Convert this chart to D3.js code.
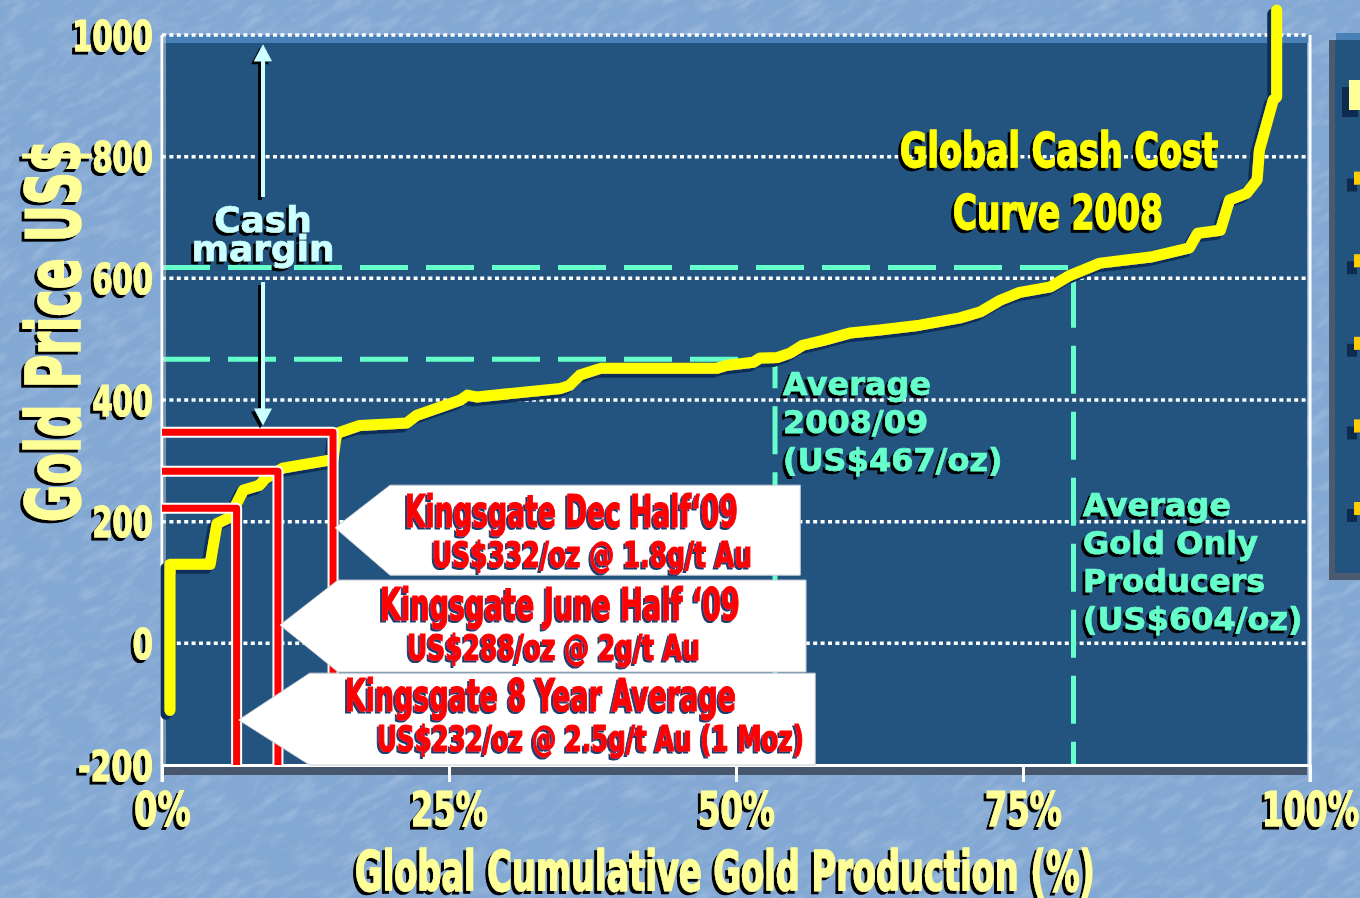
<!DOCTYPE html>
<html>
<head>
<meta charset="utf-8">
<script src="https://cdn.jsdelivr.net/npm/d3@7"></script>
<style>
  html, body { margin: 0; padding: 0; background: #86abd6; overflow: hidden; }
  svg { display: block; }
</style>
</head>
<body>
<div id="chart"></div>
<script>
var svgWidth = 1360;
var svgHeight = 898;

// plot frame in pixels
var plot = { left: 162, right: 1310, top: 35, bottom: 765 };

// ---- data ----
var curvePct = [0.7, 0.7, 4.2, 4.4, 4.8, 5.9, 7.1, 8.5, 9.0, 10.5, 12.0, 14.2, 14.9, 15.2, 15.5,
  17.2, 21.3, 22.2, 24.2, 26.0, 26.6, 27.4, 34.7, 35.5, 36.4, 38.2, 48.3, 49.2, 51.5, 52.1,
  53.6, 54.7, 55.8, 57.6, 59.9, 62.5, 66.0, 69.5, 71.3, 73.0, 74.7, 77.4, 79.1, 81.7, 86.1,
  89.5, 90.2, 92.2, 93.0, 94.5, 95.4, 95.6, 96.8, 97.1, 97.1];
var curveCost = [-110, 130, 130, 153, 197, 207, 252, 260, 271, 288, 293, 300, 302, 345, 347,
  358, 362, 375, 388, 400, 408, 405, 419, 424, 441, 452, 452, 457, 462, 469,
  470, 477, 490, 498, 510, 515, 523, 535, 545, 564, 577, 586, 605, 625, 635,
  650, 674, 679, 729, 740, 762, 811, 893, 898, 1041];

var yTickValues = [-200, 0, 200, 400, 600, 800, 1000];
var gridValues = [0, 200, 400, 600, 800, 1000];
var xTickValues = [0, 25, 50, 75, 100];

// average lines (level drawn, cumulative % where it meets the curve)
var averageCost = [467, 618];
var averagePct = [53.4, 79.4];
var averageLabels = [
  ['Average', '2008/09', '(US$467/oz)'],
  ['Average', 'Gold Only', 'Producers', '(US$604/oz)']
];

// Kingsgate markers
var kingsgateCost = [347, 283, 222];
var kingsgatePct = [14.9, 10.1, 6.5];
var kingsgateTitle = ['Kingsgate Dec Half\u201809', 'Kingsgate June Half \u201809', 'Kingsgate 8 Year Average'];
var kingsgateDetail = ['US$332/oz @ 1.8g/t Au', 'US$288/oz @ 2g/t Au', 'US$232/oz @ 2.5g/t Au (1 Moz)'];

// cash margin arrow range
var marginTop = 985;
var marginBottom = 358;

var legendColors = ['#ffff99', '#ffcc00', '#ffcc00', '#ffcc00', '#ffcc00', '#ffcc00'];

// ---- scales ----
var x = d3.scaleLinear().domain([0, 100]).range([plot.left, plot.right]);
var y = d3.scaleLinear().domain([-200, 1000]).range([plot.bottom, plot.top]);

var narrow = "'DejaVu Sans Condensed', 'DejaVu Sans', sans-serif";
var wide = "'DejaVu Sans', Verdana, sans-serif";

// rough width of a condensed label, so the heavy slide font can be imitated
function labelWidth(s, digitW, pctW) {
  var w = 0;
  for (var c of s) w += c === '%' ? pctW : (c === '-' ? digitW * 0.7 : digitW);
  return w;
}

var svg = d3.select('#chart')
  .append('svg')
  .attr('width', svgWidth)
  .attr('height', svgHeight);

// hard drop shadows, offset left-down like the slide
var defs = svg.append('defs');
function addShadow(id, color, dx, dy) {
  var f = defs.append('filter')
    .attr('id', id)
    .attr('filterUnits', 'userSpaceOnUse')
    .attr('x', -2000).attr('y', -2000)
    .attr('width', 5000).attr('height', 5000);
  f.append('feOffset').attr('in', 'SourceAlpha').attr('dx', dx).attr('dy', dy).attr('result', 'off');
  f.append('feFlood').attr('flood-color', color).attr('result', 'col');
  f.append('feComposite').attr('in', 'col').attr('in2', 'off').attr('operator', 'in').attr('result', 'sh');
  var m = f.append('feMerge');
  m.append('feMergeNode').attr('in', 'sh');
  m.append('feMergeNode').attr('in', 'SourceGraphic');
}
addShadow('shBlack', '#000000', -3, 3);
addShadow('shNavy', '#0b2f57', -4, 4);
addShadow('shRed', '#1d3c6c', -2, 2);
addShadow('shLegend', '#0c2b50', -7, 7);

// mottled slide texture
var tex = defs.append('filter')
  .attr('id', 'texture')
  .attr('x', 0).attr('y', 0).attr('width', 1).attr('height', 1);
tex.append('feTurbulence')
  .attr('type', 'fractalNoise')
  .attr('baseFrequency', '0.035 0.11')
  .attr('numOctaves', 3)
  .attr('seed', 4);
tex.append('feColorMatrix')
  .attr('type', 'matrix')
  .attr('values', '0 0 0 0 1  0 0 0 0 1  0 0 0 0 1  1.4 0 0 0 -0.62');

svg.append('rect')
  .attr('width', svgWidth).attr('height', svgHeight)
  .attr('fill', '#83a8d3');
svg.append('g')
  .attr('transform', 'rotate(-30 680 449)')
  .append('rect')
  .attr('x', -500).attr('y', -500)
  .attr('width', 2400).attr('height', 1900)
  .attr('filter', 'url(#texture)')
  .attr('opacity', 0.3);

// ---- plot panel ----
svg.append('rect')
  .attr('x', plot.left + 1).attr('y', plot.top)
  .attr('width', plot.right - plot.left - 1).attr('height', 8)
  .attr('fill', '#4a80b8');
svg.append('rect')
  .attr('x', plot.left + 1).attr('y', plot.top + 8)
  .attr('width', plot.right - plot.left - 4).attr('height', plot.bottom - plot.top - 8)
  .attr('fill', '#23547f');
svg.append('rect')
  .attr('x', plot.left + 1).attr('y', plot.bottom)
  .attr('width', plot.right - plot.left - 4).attr('height', 10)
  .attr('fill', '#46566c');

// ---- legend panel (cut off at the right) ----
var legend = svg.append('g');
legend.append('rect').attr('x', 1336).attr('y', 33).attr('width', 30).attr('height', 8).attr('fill', '#4a80b8');
legend.append('rect').attr('x', 1329).attr('y', 40).attr('width', 40).attr('height', 540).attr('fill', '#4b5a6e');
legend.append('rect').attr('x', 1335).attr('y', 40).attr('width', 35).attr('height', 533).attr('fill', '#23547f');
var legendY = d3.scalePoint().domain(d3.range(legendColors.length)).range([95, 508]);
legend.append('g')
  .attr('filter', 'url(#shLegend)')
  .selectAll('rect')
  .data(legendColors)
  .enter()
  .append('rect')
  .attr('x', (d, i) => i === 0 ? 1349 : 1354)
  .attr('y', (d, i) => i === 0 ? legendY(i) - 15 : legendY(i) - 6)
  .attr('width', (d, i) => i === 0 ? 16 : 10)
  .attr('height', (d, i) => i === 0 ? 30 : 13)
  .attr('fill', d => d);

// ---- gridlines ----
svg.append('g')
  .selectAll('line')
  .data(gridValues)
  .enter()
  .append('line')
  .attr('x1', plot.left).attr('x2', plot.right - 2)
  .attr('y1', d => y(d)).attr('y2', d => y(d))
  .attr('stroke', '#ffffff')
  .attr('stroke-width', 3.5)
  .attr('stroke-dasharray', '4 3.4');

// ---- average dashed lines ----
svg.append('g')
  .selectAll('path')
  .data(averageCost)
  .enter()
  .append('path')
  .attr('d', (d, i) => 'M' + x(0) + ',' + y(d) + 'H' + x(averagePct[i]) + 'V' + y(-200))
  .attr('fill', 'none')
  .attr('stroke', '#66ffcc')
  .attr('stroke-width', 5)
  .attr('stroke-dasharray', '48 18');

// ---- axes ----
var axisLines = svg.append('g');
axisLines.append('line')
  .attr('x1', plot.left + 3).attr('x2', plot.left + 3)
  .attr('y1', plot.top).attr('y2', plot.bottom)
  .attr('stroke', '#c9d3de').attr('stroke-width', 1);
axisLines.append('line')
  .attr('x1', plot.left).attr('x2', plot.left)
  .attr('y1', plot.top).attr('y2', plot.bottom + 17)
  .attr('stroke', '#ffffff').attr('stroke-width', 3);
axisLines.append('line')
  .attr('x1', plot.right).attr('x2', plot.right)
  .attr('y1', plot.top).attr('y2', plot.bottom + 17)
  .attr('stroke', '#ffffff').attr('stroke-width', 3);

var bottomAxis = d3.axisBottom(x)
  .tickValues(xTickValues)
  .tickFormat(d => d + '%')
  .tickSize(17)
  .tickSizeOuter(0)
  .tickPadding(10);

var xAxisG = svg.append('g')
  .attr('transform', `translate(0, ${plot.bottom})`)
  .call(bottomAxis);
xAxisG.select('.domain').attr('stroke', '#ffffff').attr('stroke-width', 3);
xAxisG.selectAll('.tick line').attr('stroke', '#ffffff').attr('stroke-width', 3);
xAxisG.selectAll('.tick text')
  .attr('fill', '#ffff99')
  .attr('stroke', '#ffff99')
  .attr('stroke-width', 1.2)
  .attr('font-family', narrow)
  .attr('font-weight', 'bold')
  .attr('font-size', 48)
  .attr('textLength', d => labelWidth(d + '%', 20.5, 36))
  .attr('lengthAdjust', 'spacingAndGlyphs')
  .attr('filter', 'url(#shBlack)');

var leftAxis = d3.axisLeft(y)
  .tickValues(yTickValues)
  .tickFormat(d => String(d))
  .tickSize(0)
  .tickPadding(9);

var yAxisG = svg.append('g')
  .attr('transform', `translate(${plot.left}, 0)`)
  .call(leftAxis);
yAxisG.select('.domain').remove();
yAxisG.selectAll('.tick text')
  .attr('fill', '#ffff99')
  .attr('stroke', '#ffff99')
  .attr('stroke-width', 1.2)
  .attr('font-family', narrow)
  .attr('font-weight', 'bold')
  .attr('font-size', 42)
  .attr('dy', '0.36em')
  .attr('textLength', d => labelWidth(String(d), 20.2, 0))
  .attr('lengthAdjust', 'spacingAndGlyphs')
  .attr('filter', 'url(#shBlack)');

// ---- cost curve ----
var line = d3.line()
  .x(d => x(d[0]))
  .y(d => y(d[1]));

svg.append('path')
  .datum(d3.zip(curvePct, curveCost))
  .attr('d', line)
  .attr('fill', 'none')
  .attr('stroke', '#ffff00')
  .attr('stroke-width', 11)
  .attr('stroke-linejoin', 'round')
  .attr('stroke-linecap', 'round')
  .attr('filter', 'url(#shNavy)');

// ---- Kingsgate L markers ----
var kPath = (d, i) => 'M' + x(0) + ',' + y(d) + 'H' + x(kingsgatePct[i]) + 'V' + y(-200);
var kg = svg.append('g');
kg.selectAll('path.edge')
  .data(kingsgateCost)
  .enter()
  .append('path')
  .attr('class', 'edge')
  .attr('d', kPath)
  .attr('fill', 'none')
  .attr('stroke', '#ffffff')
  .attr('stroke-width', 11)
  .attr('stroke-linejoin', 'round');
kg.selectAll('path.core')
  .data(kingsgateCost)
  .enter()
  .append('path')
  .attr('class', 'core')
  .attr('d', kPath)
  .attr('fill', 'none')
  .attr('stroke', '#ff0000')
  .attr('stroke-width', 7)
  .attr('stroke-linejoin', 'round');

// ---- callout boxes ----
// tip level, box top / bottom level, right edge %, notch width px
var callouts = [
  { tip: 190, top: 260, bottom: 112, right: 55.6, notch: 55 },
  { tip: 30, top: 104, bottom: -47, right: 56.1, notch: 58 },
  { tip: -126, top: -49, bottom: -200, right: 56.9, notch: 71 }
];
var textPos = [
  { x1: 405, b1: 527, w1: 333, x2: 432, b2: 567, w2: 320 },
  { x1: 380, b1: 620, w1: 360, x2: 407, b2: 660, w2: 293 },
  { x1: 345, b1: 711, w1: 391, x2: 377, b2: 751, w2: 427 }
];

svg.append('g')
  .selectAll('path')
  .data(callouts)
  .enter()
  .append('path')
  .attr('d', (c, i) => {
    var tx = x(kingsgatePct[i]) + 2;
    return 'M' + tx + ',' + y(c.tip) +
      'L' + (tx + c.notch) + ',' + y(c.top) +
      'H' + x(c.right) +
      'V' + y(c.bottom) +
      'H' + (tx + c.notch) + 'Z';
  })
  .attr('fill', '#ffffff')
  .attr('stroke', '#c4ccd6')
  .attr('stroke-width', 1);

var calloutText = svg.append('g')
  .attr('filter', 'url(#shRed)')
  .attr('fill', '#ff0000')
  .attr('stroke', '#ff0000')
  .attr('stroke-width', 1.2)
  .attr('font-family', narrow)
  .attr('font-weight', 'bold');
kingsgateTitle.forEach(function(t, i) {
  var p = textPos[i];
  calloutText.append('text')
    .attr('x', p.x1).attr('y', p.b1)
    .attr('font-size', 44)
    .attr('textLength', p.w1)
    .attr('lengthAdjust', 'spacingAndGlyphs')
    .text(t);
  calloutText.append('text')
    .attr('x', p.x2).attr('y', p.b2)
    .attr('font-size', 35)
    .attr('textLength', p.w2)
    .attr('lengthAdjust', 'spacingAndGlyphs')
    .text(kingsgateDetail[i]);
});

// ---- average labels ----
var avgText = svg.append('g')
  .attr('filter', 'url(#shBlack)')
  .attr('fill', '#66ffcc')
  .attr('stroke', '#66ffcc')
  .attr('stroke-width', 0.6)
  .attr('font-family', wide)
  .attr('font-weight', 'bold')
  .attr('font-size', 32);
var avgStart = [[783, 395], [1083, 516]];
averageLabels.forEach(function(lines, i) {
  lines.forEach(function(t, j) {
    avgText.append('text')
      .attr('x', avgStart[i][0])
      .attr('y', avgStart[i][1] + j * 38)
      .text(t);
  });
});

// ---- cash margin arrow ----
var arrow = svg.append('g').attr('filter', 'url(#shBlack)');
var ax = x(8.8);
arrow.append('line')
  .attr('x1', ax).attr('x2', ax)
  .attr('y1', y(marginTop) + 14).attr('y2', 197)
  .attr('stroke', '#ccffff').attr('stroke-width', 4);
arrow.append('line')
  .attr('x1', ax).attr('x2', ax)
  .attr('y1', 282).attr('y2', y(marginBottom) - 14)
  .attr('stroke', '#ccffff').attr('stroke-width', 4);
arrow.append('path')
  .attr('d', `M${ax},${y(marginTop)} l-9,17 h18 Z`)
  .attr('fill', '#ccffff');
arrow.append('path')
  .attr('d', `M${ax},${y(marginBottom)} l-9,-17 h18 Z`)
  .attr('fill', '#ccffff');

var cashText = svg.append('g')
  .attr('filter', 'url(#shBlack)')
  .attr('fill', '#ccffff')
  .attr('stroke', '#ccffff')
  .attr('stroke-width', 0.6)
  .attr('font-family', wide)
  .attr('font-weight', 'bold')
  .attr('font-size', 36)
  .attr('text-anchor', 'middle');
cashText.append('text').attr('x', ax).attr('y', 232).text('Cash');
cashText.append('text').attr('x', ax).attr('y', 261).text('margin');

// ---- chart title ----
var title = svg.append('g')
  .attr('filter', 'url(#shBlack)')
  .attr('fill', '#ffff00')
  .attr('stroke', '#ffff00')
  .attr('stroke-width', 1.4)
  .attr('font-family', narrow)
  .attr('font-weight', 'bold')
  .attr('font-size', 48)
  .attr('text-anchor', 'middle');
title.append('text').attr('x', 1059).attr('y', 167)
  .attr('textLength', 318).attr('lengthAdjust', 'spacingAndGlyphs')
  .text('Global Cash Cost');
title.append('text').attr('x', 1058).attr('y', 229)
  .attr('textLength', 210).attr('lengthAdjust', 'spacingAndGlyphs')
  .text('Curve 2008');

// ---- axis titles ----
var axisTitles = svg.append('g')
  .attr('filter', 'url(#shBlack)')
  .attr('fill', '#ffff99')
  .attr('stroke', '#ffff99')
  .attr('stroke-width', 1.6)
  .attr('font-family', narrow)
  .attr('font-weight', 'bold')
  .attr('text-anchor', 'middle');
axisTitles.append('text')
  .attr('x', 725).attr('y', 890)
  .attr('font-size', 55)
  .attr('textLength', 740).attr('lengthAdjust', 'spacingAndGlyphs')
  .text('Global Cumulative Gold Production (%)');
axisTitles.append('text')
  .attr('transform', 'translate(80, 331) rotate(-90)')
  .attr('font-size', 74)
  .attr('textLength', 382).attr('lengthAdjust', 'spacingAndGlyphs')
  .text('Gold Price US$');
</script>
</body>
</html>
